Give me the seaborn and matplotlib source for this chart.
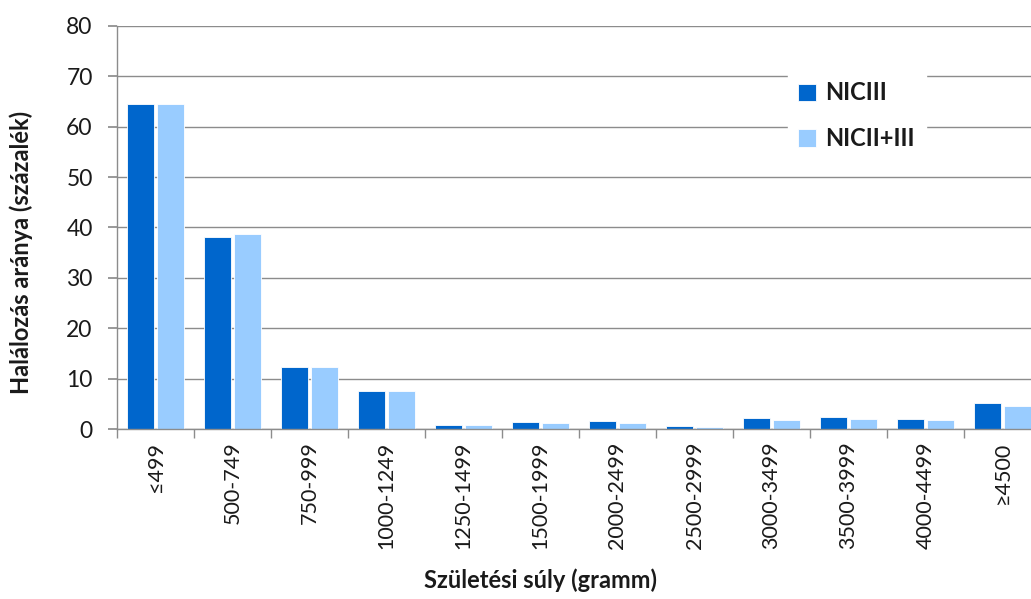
import matplotlib
matplotlib.use("Agg")
import matplotlib.pyplot as plt
import seaborn as sns
import pandas as pd
import numpy as np

categories = ["≤499", "500-749", "750-999", "1000-1249", "1250-1499", "1500-1999",
              "2000-2499", "2500-2999", "3000-3499", "3500-3999", "4000-4499", "≥4500"]
nicIII = [64.5, 38.2, 12.4, 7.6, 0.8, 1.3, 1.5, 0.5, 2.2, 2.4, 2.0, 5.1]
nicII_III = [64.5, 38.7, 12.4, 7.6, 0.7, 1.2, 1.2, 0.3, 1.7, 2.0, 1.7, 4.6]
series_names = ["NICIII", "NICII+III"]
colors = ["#0066CC", "#99CCFF"]

df = pd.DataFrame({
    "cat": categories * 2,
    "val": nicIII + nicII_III,
    "series": [series_names[0]] * len(categories) + [series_names[1]] * len(categories),
})

sns.set_theme(style="white")
plt.rcParams['font.family'] = ['Lato', 'DejaVu Sans']

fig = plt.figure(figsize=(10.31, 5.99), dpi=100)
ax = fig.add_axes([117/1031, 1 - 429/599, 924/1031, (429 - 26)/599])

sns.barplot(data=df, x="cat", y="val", hue="series", palette=colors, ax=ax,
            width=0.78, gap=0.09, edgecolor="white", linewidth=0.6, saturation=1)

ax.set_ylim(0, 80)
ax.set_xlim(-0.5, len(categories) - 0.5)
ax.set_yticks(range(0, 81, 10))
ax.yaxis.grid(True, color="#8c8c8c", linewidth=1.0)
ax.set_axisbelow(True)
for s in ["top", "right"]:
    ax.spines[s].set_visible(False)
for s in ["left", "bottom"]:
    ax.spines[s].set_color("#8c8c8c")
    ax.spines[s].set_linewidth(1.0)

ax.tick_params(axis="y", which="major", length=6.5, color="#8c8c8c", direction="out",
               labelsize=16.5, pad=11, left=True, labelcolor="#1a1a1a")
ax.set_xticks(range(len(categories)))
ax.set_xticklabels(categories, rotation=90, fontsize=15.5, color="#1a1a1a")
ax.tick_params(axis="x", which="major", length=0, pad=9)
ax.set_xticks(np.arange(-0.5, len(categories), 1), minor=True)
ax.tick_params(axis="x", which="minor", length=6.5, color="#8c8c8c", direction="out", bottom=True)

ax.set_xlabel("Születési súly (gramm)", fontsize=17, fontweight="bold", color="#1a1a1a")
ax.xaxis.set_label_coords((541 - 117) / 924, -(568 - 429) / 403)
ax.set_ylabel("Halálozás aránya (százalék)", fontsize=17, fontweight="bold", color="#1a1a1a")
ax.yaxis.set_label_coords(-(117 - 33) / 924, (429 - 252) / 403)

leg = ax.legend(loc="upper left", bbox_to_anchor=((776 - 117) / 924, (429 - 59) / 403),
                frameon=True, facecolor="white", edgecolor="white", framealpha=1,
                prop={"weight": "bold", "size": 17}, labelspacing=0.97,
                handlelength=0.75, handleheight=0.75, handletextpad=0.4,
                borderpad=0.45, fancybox=False)
for t in leg.get_texts():
    t.set_color("#1a1a1a")

fig.savefig("out.png", dpi=100)
